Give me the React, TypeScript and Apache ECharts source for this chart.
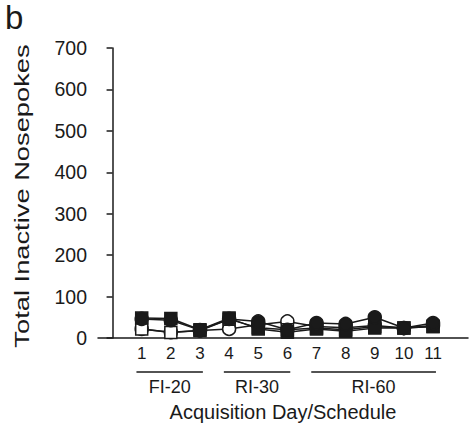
import React, { useEffect, useRef } from "react";
import * as echarts from "echarts";

const days = [1, 2, 3, 4, 5, 6, 7, 8, 9, 10, 11];
const openCircle = [22, 14, 18, 22, 32, 40, 28, 25, 30, 24, 30];
const openSquare = [22, 13, 18, 45, 25, 20, 24, 20, 28, 24, 28];
const filledSquare = [48, 47, 20, 48, 22, 14, 22, 16, 24, 24, 28];
const filledCircle = [46, 43, 19, 46, 40, 20, 36, 34, 50, 24, 36];
const yTicks = [0, 100, 200, 300, 400, 500, 600, 700];
const schedules = [
  { name: "FI-20", start: 1, end: 3 },
  { name: "RI-30", start: 4, end: 6 },
  { name: "RI-60", start: 7, end: 11 },
];

const FONT = "'Liberation Sans', Arial, sans-serif";
const INK = "#1a1a1a";

export default function App() {
  const ref = useRef<HTMLDivElement>(null);
  useEffect(() => {
    if (!ref.current) return;
    const chart = echarts.init(ref.current, null, { renderer: "svg" });
    const mk = (name: string, vals: number[], symbol: string, filled: boolean, size: number) => ({
      name,
      type: "line",
      data: days.map((d, i) => [d, vals[i]]),
      symbol,
      symbolSize: size,
      showAllSymbol: true,
      lineStyle: { color: INK, width: 1.5 },
      itemStyle: { color: filled ? INK : "#ffffff", borderColor: INK, borderWidth: 1.5 },
      z: 2,
    });
    chart.setOption({
      animation: false,
      grid: { left: 98, right: 3, top: 48, bottom: 88 },
      xAxis: {
        type: "value",
        min: -0.5,
        max: 12.2,
        splitLine: { show: false },
        axisTick: { show: false },
        axisLine: { lineStyle: { color: INK, width: 1.5 } },
        axisLabel: {
          customValues: days,
          color: INK,
          fontFamily: FONT,
          fontSize: 17,
          margin: 7,
        },
        name: "Acquisition Day/Schedule",
        nameLocation: "middle",
        nameGap: 64,
        nameTextStyle: { color: INK, fontFamily: FONT, fontSize: 20, verticalAlign: "top" },
      },
      yAxis: {
        type: "value",
        min: 0,
        max: 700,
        interval: 100,
        splitLine: { show: false },
        axisTick: { show: true, inside: false, length: 6, lineStyle: { color: INK, width: 1.5 } },
        axisLine: { show: true, lineStyle: { color: INK, width: 1.5 } },
        axisLabel: {
          color: INK,
          fontFamily: FONT,
          fontSize: 19.5,
          margin: 11,
          customValues: yTicks,
        },
      },
      series: [
        mk("Open circle", openCircle, "circle", false, 13),
        mk("Open square", openSquare, "rect", false, 12),
        mk("Filled square", filledSquare, "rect", true, 12),
        mk("Filled circle", filledCircle, "circle", true, 13),
      ],
    });

    const lineY = 372;
    const elements: any[] = [
      {
        type: "text",
        left: 5,
        top: 1,
        style: { text: "b", fill: INK, fontFamily: FONT, fontSize: 33 },
      },
      {
        type: "text",
        x: 22,
        y: 196,
        rotation: Math.PI / 2,
        scaleX: 1.3,
        scaleY: 1,
        style: {
          text: "Total Inactive Nosepokes",
          fill: INK,
          fontFamily: FONT,
          fontSize: 21,
          align: "center",
          verticalAlign: "middle",
        },
      },
    ];
    schedules.forEach((s) => {
      const p0 = chart.convertToPixel({ gridIndex: 0 }, [s.start - 0.18, 0]) as number[];
      const p1 = chart.convertToPixel({ gridIndex: 0 }, [s.end + 0.1, 0]) as number[];
      elements.push({
        type: "line",
        shape: { x1: p0[0], y1: lineY, x2: p1[0], y2: lineY },
        style: { stroke: INK, lineWidth: 1.5 },
      });
      elements.push({
        type: "text",
        x: (p0[0] + p1[0]) / 2,
        y: lineY + 15,
        style: {
          text: s.name,
          fill: INK,
          fontFamily: FONT,
          fontSize: 18,
          align: "center",
          verticalAlign: "middle",
        },
      });
    });
    chart.setOption({ graphic: elements });
    return () => chart.dispose();
  }, []);
  return (
    <div
      ref={ref}
      style={{ position: "fixed", left: 0, top: 0, width: 471, height: 427, background: "#fff" }}
    />
  );
}
